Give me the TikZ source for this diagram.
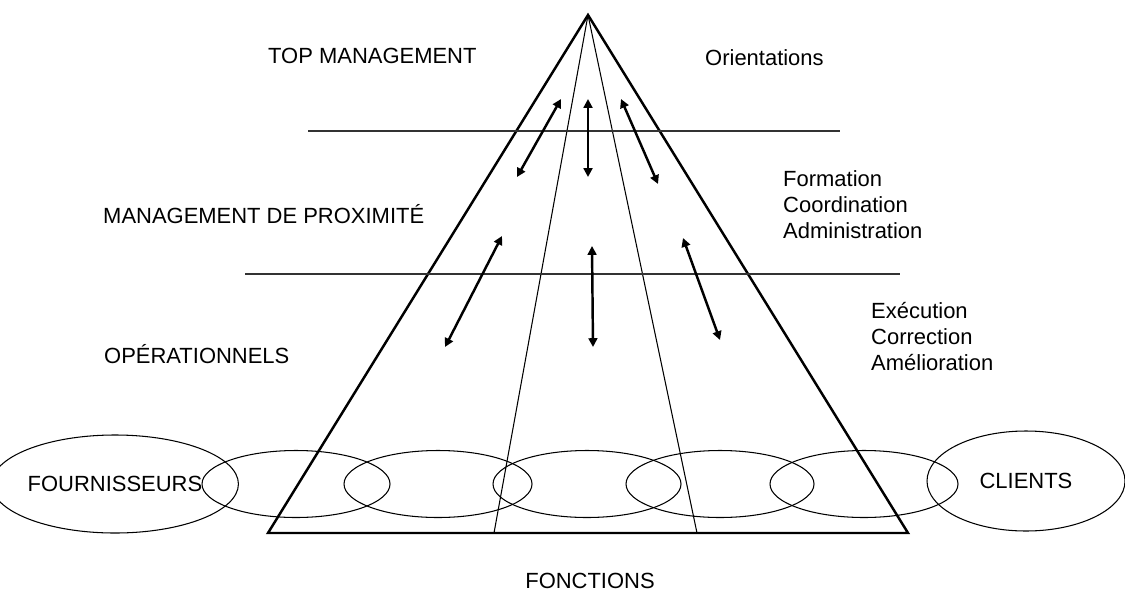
\documentclass[tikz,border=0pt]{standalone}
\usepackage{fontspec}
\setmainfont{Liberation Sans}
\usetikzlibrary{shapes.geometric,arrows.meta}

\begin{document}
\begin{tikzpicture}[every node/.style={font=\fontsize{12.5}{14.7}\selectfont}]
      \useasboundingbox (0,0) rectangle (22.5,11.94);
      % pyramid
      \coordinate (T) at (11.76, 11.64);
      \coordinate (L) at (5.36, 1.28);
      \coordinate (R) at (18.16, 1.28);
      \coordinate (L2) at (9.88, 1.28);
      \coordinate (R2) at (13.94, 1.28);
      % ellipses along the base
      \begin{scope}[every node/.style={ellipse,draw,line width=0.6pt,inner sep=0pt,
          minimum width=3.76cm,minimum height=1.34cm,font=\fontsize{12.5}{14.7}\selectfont}]
        \node (F) at (2.3, 2.26) [minimum width=4.2cm,minimum height=1.96cm] {FOURNISSEURS\hspace{0.3cm}};
        \node (E1) at (5.92, 2.26) {};
        \node (E2) at (8.76, 2.26) {};
        \node (E3) at (11.74, 2.26) {};
        \node (E4) at (14.4, 2.26) {};
        \node (E5) at (17.28, 2.26) {};
        \node (C) at (20.52, 2.32) [minimum width=3.96cm,minimum height=2.0cm] {CLIENTS};
      \end{scope}
      \draw[line width=1.4pt,line join=miter] (T) -- (L) -- (R) -- cycle;
      \draw[line width=0.6pt] (T) -- (L2);
      \draw[line width=0.6pt] (T) -- (R2);
      % level lines
      \coordinate (H1a) at (6.16, 9.32);
      \coordinate (H1b) at (16.8, 9.32);
      \coordinate (H2a) at (4.9, 6.46);
      \coordinate (H2b) at (18.0, 6.46);
      \draw[line width=0.7pt,black!80] (H1a) -- (H1b);
      \draw[line width=0.7pt,black!80] (H2a) -- (H2b);
      % arrows
      \coordinate (A1) at (10.34, 8.4);   \coordinate (B1) at (11.22, 9.96);
      \coordinate (A2) at (11.76, 8.4);   \coordinate (B2) at (11.76, 9.96);
      \coordinate (A3) at (13.16, 8.26);  \coordinate (B3) at (12.42, 9.96);
      \coordinate (A4) at (8.9, 5.0);     \coordinate (B4) at (10.04, 7.22);
      \coordinate (A5) at (11.86, 5.0);   \coordinate (B5) at (11.84, 7.02);
      \coordinate (A6) at (14.4, 5.14);   \coordinate (B6) at (13.66, 7.18);
      \begin{scope}[line width=1.4pt,{Triangle[length=5pt,width=5pt]}-{Triangle[length=5pt,width=5pt]}]
        \draw (A1) -- (B1);
        \draw (A2) -- (B2);
        \draw (A3) -- (B3);
        \draw (A4) -- (B4);
        \draw (A5) -- (B5);
        \draw (A6) -- (B6);
      \end{scope}
      % labels
      \node[anchor=base west] (top) at (5.24, 10.66) {TOP MANAGEMENT};
      \node[anchor=base west] (ori) at (13.98, 10.62) {Orientations};
      \node[anchor=base west] (prox) at (1.94, 7.48) {MANAGEMENT DE PROXIMITÉ};
      \node[anchor=base west,align=left] (form) at (15.54, 7.18)
        {Formation\\Coordination\\Administration};
      \node[anchor=base west] (ops) at (1.96, 4.68) {OPÉRATIONNELS};
      \node[anchor=base west,align=left] (exec) at (17.3, 4.54)
        {Exécution\\Correction\\Amélioration};
      \node[anchor=base] (fct) at (11.8, 0.18) {FONCTIONS};
    \end{tikzpicture}
\end{document}
